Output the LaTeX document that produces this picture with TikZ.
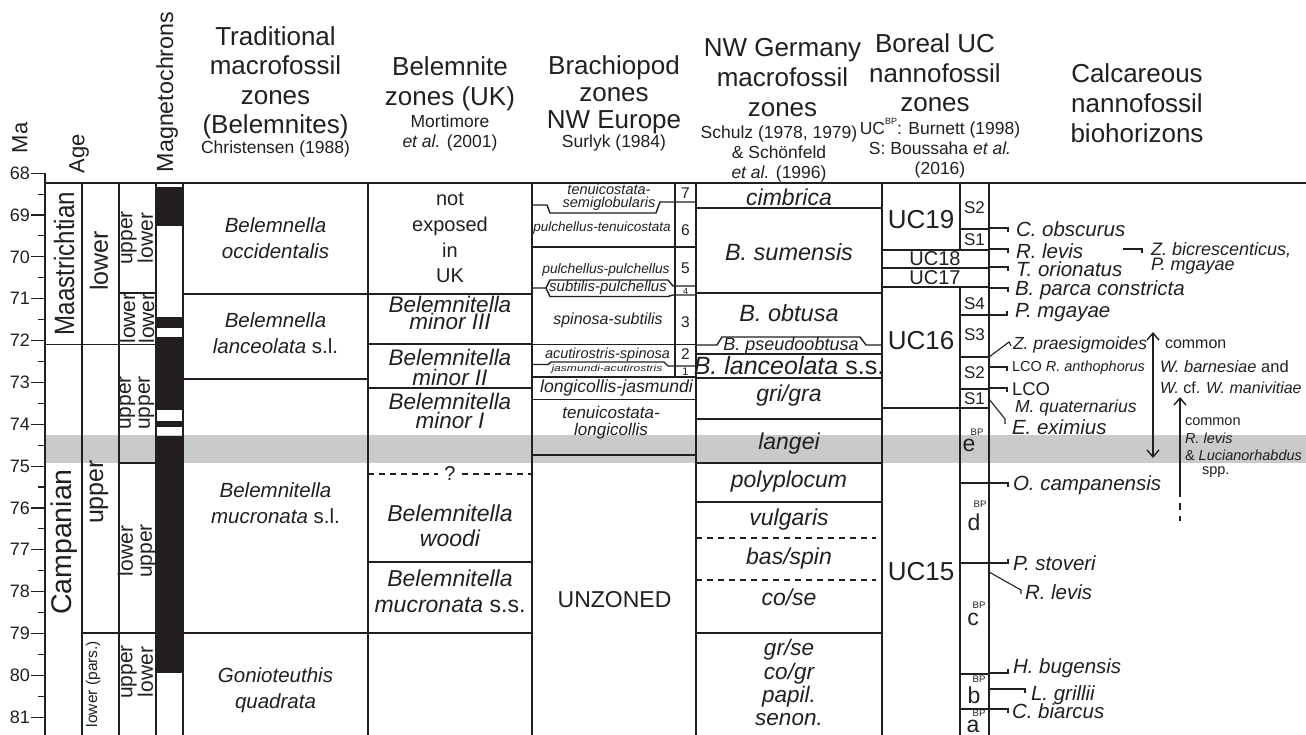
\documentclass[tikz,border=0pt]{standalone}
\usepackage{fontspec}
\setmainfont{Liberation Sans}
\usetikzlibrary{arrows.meta}
\definecolor{ink}{RGB}{35,31,32}
\definecolor{band}{RGB}{201,202,202}
\newcommand\fsz[2]{\fontsize{#1pt}{#2pt}\selectfont}
\tikzset{barbtip/.tip={Straight Barb[length=7pt,width=12pt]}}
\begin{document}
\begin{tikzpicture}[x=1pt,y=-1pt,
  t/.style={inner sep=0pt,outer sep=0pt,text=ink,align=center},
  ln/.style={draw=ink,line width=1.4pt},
  tk/.style={draw=ink,line width=1.1pt},
  dsh/.style={draw=ink,line width=1.3pt,dash pattern=on 6pt off 5pt},
  bio/.style={t,anchor=west,font={\fsz{20.5}{24}\itshape}},
  hd/.style={t,font={\fsz{26}{29.5}}},
  sm/.style={t,font={\fsz{17.5}{19.5}}}]
\useasboundingbox (0,0) rectangle (1306,735);
\fill[white] (0,0) rectangle (1306,735);
% grey band
\fill[band] (45,435) rectangle (1306,463);
% magnetochrons
\fill[ink] (156,187) rectangle (183,226);
\fill[ink] (156,317) rectangle (183,328);
\fill[ink] (156,337) rectangle (183,410);
\fill[ink] (156,421) rectangle (183,427);
\fill[ink] (156,436) rectangle (183,673);
% axis
\draw[tk] (45,173.15)--(45,735);
\foreach \m in {68,...,81}{
  \pgfmathsetmacro{\yy}{215+(\m-69)*41.85}
  \draw[tk] (31,\yy)--(45,\yy);
  \node[t,anchor=east,font=\fsz{18}{18}] (ma\m) at (30,\yy) {\m};
}
\foreach \m in {68.5,69.5,...,80.5}{
  \pgfmathsetmacro{\yy}{215+(\m-69)*41.85}
  \draw[tk] (38,\yy)--(45,\yy);
}
% vertical lines
\foreach \xx in {82,119,156,183,368,532,696,882,989}{\draw[ln] (\xx,183)--(\xx,735);}
\draw[ln] (675,183)--(675,377);
\draw[ln] (960,183)--(960,250);
\draw[ln] (960,287)--(960,735);
% top line
\draw[draw=ink,line width=1.9pt] (45,183)--(1306,183);
% age columns
\draw[ln] (45,344.5)--(156,344.5);
\draw[ln] (82,633)--(156,633);
\draw[ln] (119,293)--(156,293);
\draw[ln] (119,463)--(156,463);
% traditional + belemnite
\draw[ln] (183,294)--(532,294);
\draw[ln] (183,379)--(368,379);
\draw[ln] (183,633)--(532,633);
\draw[ln] (368,344)--(532,344);
\draw[ln] (368,388)--(532,388);
\draw[ln] (368,562)--(532,562);
\draw[dsh] (368,474)--(438,474);
\draw[dsh] (462,474)--(532,474);
% brachiopod
\draw[ln] (532,205)--(547,205)--(550,213)--(656,213)--(660,202)--(696,202);
\draw[ln] (532,247)--(696,247);
\draw[ln] (532,288)--(546,288)--(550,280)--(668,280)--(673,286)--(696,286);
\draw[ln] (546,288)--(550,296.5)--(668,296.5)--(673,295)--(696,295);
\draw[ln] (532,344.5)--(696,344.5);
\draw[ln] (532,364.5)--(548,364.5)--(551,362)--(664,362)--(668,366)--(696,366);
\draw[ln] (532,377)--(696,377);
\draw[ln] (532,399.5)--(696,399.5);
\draw[ln] (532,455)--(696,455);
% NW Germany
\draw[ln] (696,208)--(882,208);
\draw[ln] (696,293)--(882,293);
\draw[ln] (696,345)--(717,345)--(722,337)--(860,337)--(866,345)--(882,345);
\draw[ln] (696,354)--(882,354);
\draw[ln] (696,378)--(882,378);
\draw[ln] (696,419)--(882,419);
\draw[ln] (696,463)--(882,463);
\draw[ln] (696,502)--(882,502);
\draw[dsh] (696,538)--(876,538);
\draw[dsh] (696,580)--(876,580);
\draw[ln] (696,633)--(882,633);
% UC and S
\foreach \yy in {250,268,287,408}{\draw[ln] (882,\yy)--(989,\yy);}
\foreach \yy in {229,315,357,389,483,563,674,709}{\draw[ln] (960,\yy)--(989,\yy);}

% ---------- headers ----------
\node[t,rotate=90,font=\fsz{22}{22}] (hma) at (20,138) {Ma};
\node[t,rotate=90,font=\fsz{22}{22}] (hage) at (79,154) {Age};
\node[t,rotate=90,font=\fsz{23.3}{23.3}] (hmag) at (167,92) {Magnetochrons};
\node[hd] (h1) at (275.5,83) {Traditional\\macrofossil\\zones\\(Belemnites)};
\node[sm,anchor=base] (h1s) at (275.5,154) {Christensen (1988)};
\node[hd] (h2) at (450,84) {Belemnite\\zones (UK)};
\node[sm] (h2s) at (450,133) {Mortimore\\\textit{et al.} (2001)};
\node[hd,font={\fsz{26}{27}}] (h3) at (614,94.5) {Brachiopod\\zones\\NW Europe};
\node[sm,anchor=base] (h3s) at (614,148) {Surlyk (1984)};
\node[hd,font={\fsz{26}{30}}] (h4) at (782.5,77.5) {NW Germany\\macrofossil\\zones};
\node[sm,font={\fsz{17.5}{20}}] (h4s) at (779,153.5) {Schulz (1978, 1979)\\\& Schönfeld\\\textit{et al.} (1996)};
\node[hd] (h5) at (935,73) {Boreal UC\\nannofossil\\zones};
\node[sm,font={\fsz{17.5}{20}}] (h5s) at (940,148.5) {UC\raisebox{0.55em}{\fsz{9}{9}BP}: Burnett (1998)\\S: Boussaha \textit{et al.}\\(2016)};
\node[hd,font={\fsz{26}{30}}] (h6) at (1137,103.7) {Calcareous\\nannofossil\\biohorizons};

% ---------- age columns ----------
\node[t,rotate=90,font=\fsz{28}{28}] (maas) at (64,263.5) {\scalebox{0.86}[1]{Maastrichtian}};
\node[t,rotate=90,font=\fsz{28.5}{28.5}] (camp) at (64,542) {Campanian};
\node[t,rotate=90,font=\fsz{25}{25}] (lowm) at (99,261) {lower};
\node[t,rotate=90,font=\fsz{25}{25}] (upc) at (99,492) {upper};
\node[t,rotate=90,font=\fsz{15.5}{15.5}] (lowp) at (93,684) {lower (pars.)};
\node[t,rotate=90,font=\fsz{21}{19}] (sa1) at (137,238) {upper\\lower};
\node[t,rotate=90,font=\fsz{21}{19}] (sa2) at (137,318.5) {lower\\lower};
\node[t,rotate=90,font=\fsz{21}{19}] (sa3) at (137,403) {upper\\upper};
\node[t,rotate=90,font=\fsz{21}{19}] (sa4) at (137,551) {lower\\upper};
\node[t,rotate=90,font=\fsz{21}{19}] (sa5) at (137,672) {upper\\lower};

% ---------- traditional ----------
\node[t,font={\fsz{20.5}{26}\itshape}] (tr1) at (275.5,238) {Belemnella\\occidentalis};
\node[t,font={\fsz{20.5}{26}\itshape}] (tr2) at (275.5,333) {Belemnella\\lanceolata {\upshape s.l.}};
\node[t,font={\fsz{20.5}{26}\itshape}] (tr3) at (275.5,503) {Belemnitella\\mucronata {\upshape s.l.}};
\node[t,font={\fsz{20.5}{26}\itshape}] (tr4) at (275.5,690) {Gonioteuthis\\quadrata};

% ---------- belemnite UK ----------
\node[t,font={\fsz{20}{25.7}}] (be0) at (450,238) {not\\exposed\\in\\UK};
\node[t,font={\fsz{22.5}{17}\itshape}] (be1) at (450,313) {Belemnitella\\minor III};
\node[t,font={\fsz{22.5}{20}\itshape}] (be2) at (450,367) {Belemnitella\\minor II};
\node[t,font={\fsz{22.5}{19}\itshape}] (be3) at (450,411) {Belemnitella\\minor I};
\node[t,font={\fsz{20}{20}}] (beq) at (450,474) {?};
\node[t,font={\fsz{23}{25}\itshape}] (be4) at (450,526) {Belemnitella\\woodi};
\node[t,font={\fsz{23}{26}\itshape}] (be5) at (450,591.5) {Belemnitella\\mucronata {\upshape s.s.}};

% ---------- brachiopod ----------
\node[t,font={\fsz{14.5}{13.5}\itshape}] (br7) at (609,197.5) {tenuicostata-\\semiglobularis};
\node[t,font={\fsz{13.5}{14}\itshape}] (br6) at (602,228) {pulchellus-tenuicostata};
\node[t,font={\fsz{13.8}{14}\itshape}] (br5) at (606,270) {pulchellus-pulchellus};
\node[t,font={\fsz{15}{15}\itshape}] (br4) at (608,288) {subtilis-pulchellus};
\node[t,font={\fsz{16}{17}\itshape}] (br3) at (608,320) {spinosa-subtilis};
\node[t,font={\fsz{14.5}{15}\itshape}] (br2) at (607.5,354.5) {acutirostris-spinosa};
\node[t,font={\fsz{12.1}{12}\itshape}] (br1) at (607,369.5) {\scalebox{1}[0.75]{jasmundi-acutirostris}};
\node[t,font={\fsz{17.6}{18}\itshape}] (br0) at (616.5,388) {longicollis-jasmundi};
\node[t,font={\fsz{17}{17}\itshape}] (brm) at (611,423) {tenuicostata-\\longicollis};
\node[t,font={\fsz{23}{23}}] (unz) at (614.5,600) {UNZONED};
\foreach \n/\yy/\s in {7/193/15.5,6/230/15.5,5/268/15.5,4/291/9,3/322/15.5,2/354/15.5,1/372/11}{
  \node[t,font={\fsz{\s}{\s}}] (num\n) at (685.5,\yy) {\n};
}

% ---------- NW Germany ----------
\node[t,font={\fsz{23}{23}\itshape}] (ng1) at (789,197) {cimbrica};
\node[t,font={\fsz{23.5}{23}\itshape}] (ng2) at (789,252.5) {B. sumensis};
\node[t,font={\fsz{23.5}{23}\itshape}] (ng3) at (789,313.5) {B. obtusa};
\node[t,font={\fsz{18}{18}\itshape}] (ng4) at (791,346) {B. pseudoobtusa};
\node[t,font={\fsz{25}{25}\itshape}] (ng5) at (789,366) {B. lanceolata {\upshape s.s.}};
\node[t,font={\fsz{23}{23}\itshape}] (ng6) at (789,396) {gri/gra};
\node[t,font={\fsz{23}{23}\itshape}] (ng7) at (789,444) {langei};
\node[t,font={\fsz{23}{23}\itshape}] (ng8) at (789,482) {polyplocum};
\node[t,font={\fsz{23}{23}\itshape}] (ng9) at (789,520) {vulgaris};
\node[t,font={\fsz{23}{23}\itshape}] (ng10) at (789,559) {bas/spin};
\node[t,font={\fsz{23}{23}\itshape}] (ng11) at (789,597) {co/se};
\node[t,font={\fsz{22.5}{23}\itshape}] (ng12) at (789,650) {gr/se};
\node[t,font={\fsz{22.5}{23}\itshape}] (ng13) at (789,673.5) {co/gr};
\node[t,font={\fsz{22.5}{23}\itshape}] (ng14) at (789,697) {papil.};
\node[t,font={\fsz{22.5}{23}\itshape}] (ng15) at (789,720) {senon.};

% ---------- UC ----------
\node[t,font={\fsz{26}{26}}] (uc19) at (921,220) {UC19};
\node[t,font={\fsz{20}{20}}] (uc18) at (935,259) {UC18};
\node[t,font={\fsz{20}{20}}] (uc17) at (935,278) {UC17};
\node[t,font={\fsz{26}{26}}] (uc16) at (921,341) {UC16};
\node[t,font={\fsz{26}{26}}] (uc15) at (921,572) {UC15};
\foreach \n/\lab/\yy in {a/S2/208,b/S1/239.5,c/S4/304,d/S3/335,e/S2/373,f/S1/398.5}{
  \node[t,font={\fsz{17}{17}}] (s\n) at (974.5,\yy) {\lab};
}
\node[t,font={\fsz{23}{23}}] (le) at (969,445) {e};
\node[t,font={\fsz{9.5}{9.5}}] (lebp) at (977,432) {BP};
\node[t,font={\fsz{23}{23}}] (ld) at (974,522) {d};
\node[t,font={\fsz{9.5}{9.5}}] (ldbp) at (980,504) {BP};
\node[t,font={\fsz{23}{23}}] (lc) at (973,619) {c};
\node[t,font={\fsz{9.5}{9.5}}] (lcbp) at (979,605) {BP};
\node[t,font={\fsz{23}{23}}] (lb) at (974,695) {b};
\node[t,font={\fsz{9.5}{9.5}}] (lbbp) at (979,679.5) {BP};
\node[t,font={\fsz{23}{23}}] (la) at (973,726.5) {a};
\node[t,font={\fsz{9.5}{9.5}}] (labp) at (979,713.5) {BP};

% ---------- biohorizons ----------
\draw[tk] (989,228)--(1008,228)--(1008,232);
\node[bio] (b1) at (1016,229.5) {C. obscurus};
\draw[tk] (989,249)--(1008,249)--(1008,253);
\node[bio] (b2) at (1016,251.5) {R. levis};
\draw[tk] (989,267)--(1008,267)--(1008,271);
\node[bio] (b3) at (1016,269.5) {T. orionatus};
\draw[tk] (989,288)--(1008,288)--(1008,292);
\node[bio] (b4) at (1015,290) {B. parca constricta};
\draw[tk] (989,315)--(1007,315)--(1007,311);
\node[bio] (b5) at (1015,313) {P. mgayae};
\draw[tk] (989,357)--(1009,342)--(1011,346);
\node[bio,font={\fsz{17.5}{20}\itshape}] (b6) at (1013,345) {Z. praesigmoides};
\draw[tk] (989,367)--(1007,367)--(1007,371);
\node[bio,font={\fsz{14.5}{16}}] (b7) at (1012,368) {LCO \textit{R. anthophorus}};
\draw[tk] (989,388)--(1007,388)--(1007,392);
\node[bio,font={\fsz{18.5}{20}}] (b8) at (1012,389) {LCO};
\node[bio,font={\fsz{17.5}{20}\itshape}] (b8b) at (1015,408) {M. quaternarius};
\draw[tk] (989,399)--(1005,419)--(1005,424);
\node[bio] (b9) at (1012,427) {E. eximius};
\draw[tk] (989,483)--(1008,483)--(1008,487);
\node[bio] (b10) at (1013,485) {O. campanensis};
\draw[tk] (989,563)--(1008,563)--(1008,559);
\node[bio] (b11) at (1013,563) {P. stoveri};
\draw[tk] (989,572)--(1021,590)--(1021,594);
\node[bio] (b12) at (1025,592) {R. levis};
\draw[tk] (989,673)--(1008,673)--(1008,669);
\node[bio] (b13) at (1013,668) {H. bugensis};
\draw[tk] (989,689)--(1025,689)--(1025,693);
\node[bio] (b14) at (1031,695) {L. grillii};
\draw[tk] (989,709)--(1008,709)--(1008,713);
\node[bio] (b15) at (1012,711) {C. biarcus};
\draw[tk] (1123,249)--(1142,249)--(1142,253);
\node[bio,font={\fsz{18}{16}\itshape}] (zb) at (1151,250) {Z. bicrescenticus,};
\node[bio,font={\fsz{18}{16}\itshape}] (pm) at (1151,266) {P. mgayae};

% ---------- range arrows ----------
\coordinate (a1t) at (1153,332);
\coordinate (a1b) at (1153,458);
\draw[ln,barbtip-barbtip] (a1t)--(a1b);
\node[bio,font={\fsz{16}{18}}] (c1) at (1165,344) {common};
\node[bio,font={\fsz{16.5}{18}}] (c2) at (1160,367) {\textit{W. barnesiae} and};
\node[bio,font={\fsz{16}{18}}] (c3) at (1160,388) {\textit{W.} cf. \textit{W. manivitiae}};
\coordinate (a2t) at (1180,397);
\coordinate (a2m) at (1180,490);
\coordinate (a2b) at (1180,521);
\draw[ln,barbtip-] (a2t)--(a2m);
\draw[ln,dash pattern=on 7pt off 6pt] (a2m)--(a2b);
\node[bio,font={\fsz{14.5}{16}}] (d1) at (1185,422) {common};
\node[bio,font={\fsz{14.5}{16}\itshape}] (d2) at (1185,438) {R. levis};
\node[bio,font={\fsz{14.5}{16}}] (d3) at (1185,455) {\& \textit{Lucianorhabdus}};
\node[bio,font={\fsz{14.5}{16}}] (d4) at (1202,472) {spp.};
\end{tikzpicture}
\end{document}
